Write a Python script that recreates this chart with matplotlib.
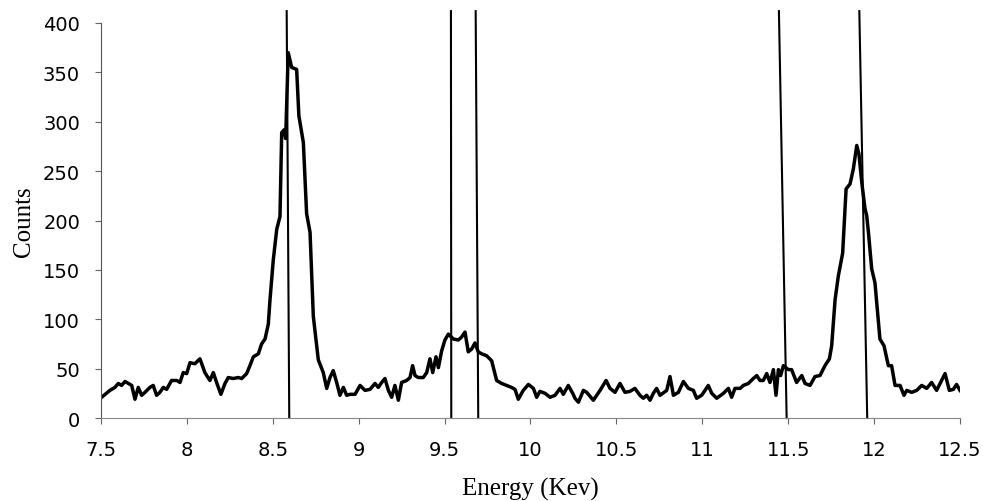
import matplotlib
matplotlib.use("Agg")
import matplotlib.pyplot as plt

# spectre (keV, coups)
energy = [
    7.504, 7.552, 7.581, 7.601, 7.620, 7.640, 7.659, 7.679, 7.698, 7.717,
    7.737, 7.756, 7.785, 7.804, 7.824, 7.843, 7.863, 7.882, 7.911, 7.941,
    7.960, 7.979, 7.999, 8.018, 8.047, 8.076, 8.105, 8.134, 8.154, 8.173,
    8.198, 8.222, 8.241, 8.270, 8.299, 8.319, 8.348, 8.367, 8.387, 8.416,
    8.435, 8.455, 8.474, 8.484, 8.503, 8.523, 8.542, 8.552, 8.567, 8.575,
    8.590, 8.610, 8.639, 8.652, 8.678, 8.697, 8.717, 8.736, 8.765, 8.794,
    8.814, 8.833, 8.852, 8.872, 8.891, 8.911, 8.930, 8.949, 8.979, 9.008,
    9.037, 9.066, 9.095, 9.114, 9.134, 9.153, 9.173, 9.192, 9.211, 9.231,
    9.250, 9.279, 9.299, 9.314, 9.328, 9.347, 9.376, 9.396, 9.415, 9.431,
    9.450, 9.464, 9.483, 9.502, 9.522, 9.551, 9.580, 9.599, 9.619, 9.638,
    9.658, 9.677, 9.696, 9.716, 9.745, 9.774, 9.803, 9.832, 9.861, 9.890,
    9.910, 9.929, 9.958, 9.988, 10.017, 10.036, 10.055, 10.085, 10.114, 10.143,
    10.172, 10.191, 10.220, 10.246, 10.259, 10.279, 10.308, 10.327, 10.366, 10.405,
    10.440, 10.463, 10.492, 10.521, 10.550, 10.579, 10.608, 10.637, 10.657, 10.676,
    10.696, 10.715, 10.734, 10.754, 10.793, 10.812, 10.832, 10.861, 10.890, 10.919,
    10.948, 10.967, 10.996, 11.016, 11.035, 11.055, 11.084, 11.123, 11.152, 11.171,
    11.190, 11.220, 11.239, 11.268, 11.297, 11.317, 11.336, 11.355, 11.375, 11.394,
    11.414, 11.429, 11.443, 11.456, 11.472, 11.501, 11.520, 11.549, 11.579, 11.598,
    11.627, 11.656, 11.685, 11.714, 11.740, 11.753, 11.773, 11.792, 11.817, 11.837,
    11.860, 11.879, 11.899, 11.912, 11.928, 11.947, 11.957, 11.967, 11.986, 12.005,
    12.034, 12.058, 12.083, 12.102, 12.122, 12.151, 12.174, 12.190, 12.219, 12.248,
    12.277, 12.306, 12.335, 12.364, 12.393, 12.413, 12.438, 12.461, 12.480, 12.500,
]
counts = [
    21, 28, 31, 35, 33, 37, 35, 33, 19, 31,
    23, 26, 31, 33, 23, 26, 31, 29, 38, 38,
    36, 46, 45, 56, 55, 60, 46, 38, 46, 36,
    24, 35, 41, 40, 41, 40, 45, 53, 62, 65,
    75, 80, 95, 120, 160, 191, 204, 289, 292, 283,
    370, 355, 353, 306, 279, 207, 188, 103, 59, 46,
    30, 41, 48, 36, 23, 31, 23, 24, 24, 33,
    28, 29, 35, 31, 36, 40, 28, 21, 33, 18,
    36, 38, 41, 53, 43, 41, 41, 46, 60, 46,
    62, 51, 68, 79, 85, 80, 79, 82, 87, 67,
    70, 76, 67, 65, 63, 58, 38, 35, 33, 31,
    29, 19, 28, 34, 30, 21, 27, 25, 21, 23,
    30, 24, 33, 25, 20, 16, 28, 26, 18, 28,
    38, 30, 26, 35, 26, 27, 30, 23, 20, 23,
    18, 25, 30, 23, 28, 42, 23, 26, 37, 30,
    28, 20, 23, 28, 33, 25, 20, 25, 30, 21,
    30, 30, 33, 35, 40, 43, 38, 38, 45, 36,
    49, 23, 49, 43, 53, 49, 49, 36, 43, 35,
    33, 42, 43, 53, 60, 73, 120, 144, 167, 232,
    237, 252, 276, 267, 239, 212, 205, 188, 151, 137,
    80, 73, 53, 53, 33, 33, 23, 28, 26, 28,
    33, 30, 36, 28, 38, 45, 28, 29, 34, 28,
]

# lignes verticales (légèrement inclinées sur le scan)
line_top_x = [8.581, 9.537, 9.681, 11.446, 11.914]
line_bottom_x = [8.596, 9.539, 9.696, 11.491, 11.960]
line_top_y = 412

fig = plt.figure(figsize=(9.83, 5.02), dpi=100)
ax = fig.add_axes([0.1027, 0.1653, 0.8739, 0.7869])

ax.plot(energy, counts, color="black", lw=2.5, solid_joinstyle="round")
for xt, xb in zip(line_top_x, line_bottom_x):
    ax.plot([xt, xb], [line_top_y, 0], color="black", lw=1.5, clip_on=False)

ax.set_xlim(7.5, 12.5)
ax.set_ylim(0, 400)
ax.set_xticks([7.5, 8, 8.5, 9, 9.5, 10, 10.5, 11, 11.5, 12, 12.5])
ax.set_xticklabels(["7.5", "8", "8.5", "9", "9.5", "10", "10.5", "11", "11.5", "12", "12.5"])
ax.set_yticks(range(0, 401, 50))

for side in ["top", "right"]:
    ax.spines[side].set_visible(False)
ax.spines["left"].set_color("#555555")
ax.spines["left"].set_linewidth(0.8)
ax.spines["bottom"].set_color("#888888")
ax.spines["bottom"].set_linewidth(0.8)

ax.tick_params(axis="both", direction="out", length=4, width=0.8, color="#666666",
               labelsize=14)
ax.tick_params(axis="y", pad=11)
ax.tick_params(axis="x", pad=12)
for lab in ax.get_xticklabels() + ax.get_yticklabels():
    lab.set_fontfamily("DejaVu Sans")

ax.set_xlabel("Energy (Kev)", family="Liberation Serif", fontsize=18, labelpad=13)
ax.set_ylabel("Counts", family="Liberation Serif", fontsize=18, labelpad=6)

fig.savefig("out.png", dpi=100)
